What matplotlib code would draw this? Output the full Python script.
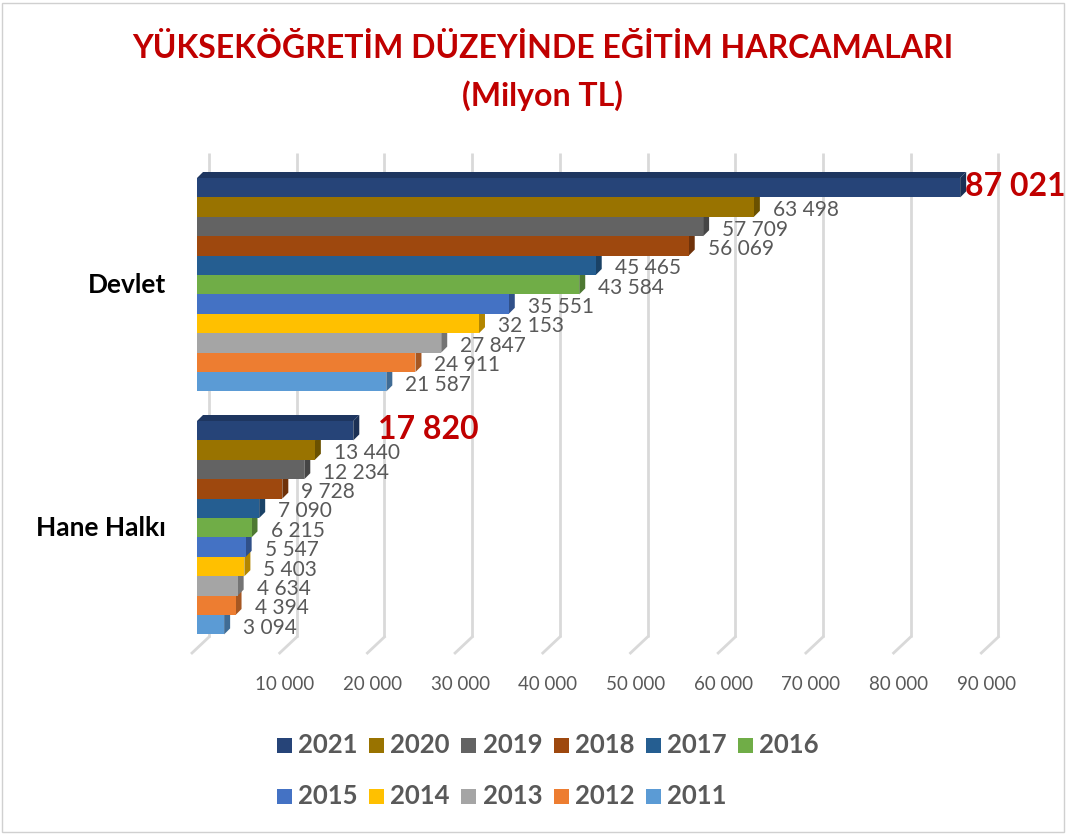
import numpy as np
import matplotlib
matplotlib.use('Agg')
from matplotlib import pyplot as plt
from matplotlib.patches import Polygon, Rectangle
from matplotlib.colors import to_rgb

#=======================================#
# Data                                  #
#=======================================#
years = ['2021', '2020', '2019', '2018', '2017', '2016',
         '2015', '2014', '2013', '2012', '2011']
colors = ['#264478', '#997300', '#636363', '#9E480E', '#255E91', '#70AD47',
          '#4472C4', '#FFC000', '#A5A5A5', '#ED7D31', '#5B9BD5']
categories = ['Devlet', 'Hane Halkı']
devlet = [87021, 63498, 57709, 56069, 45465, 43584, 35551, 32153, 27847, 24911, 21587]
hane_halki = [17820, 13440, 12234, 9728, 7090, 6215, 5547, 5403, 4634, 4394, 3094]
xticks = [10000, 20000, 30000, 40000, 50000, 60000, 70000, 80000, 90000]

title = 'YÜKSEKÖĞRETİM DÜZEYİNDE EĞİTİM HARCAMALARI\n(Milyon TL)'

#=======================================#
# Layout (pixel based)                  #
#=======================================#
W, H = 1068, 834
x0px = 197.0             # front face of value 0
scale = 87.7 / 10000     # pixels per unit
depth = 6.0              # 3d depth of the bars in px
bar_h = 19.4
group_top = [178.0, 421.0]

fnt = ['Lato', 'DejaVu Sans']
red = '#C00000'
grey = '#595959'

fig = plt.figure(figsize=(W / 100, H / 100), dpi=100)
ax = fig.add_axes([0, 0, 1, 1])
ax.set_xlim(-x0px / scale, (W - x0px) / scale)
ax.set_ylim(H, 0)
ax.axis('off')

dx = depth / scale  # depth in data units

def shade(c, f):
    return tuple(np.array(to_rgb(c)) * f)

# gridlines on back wall + floor
for v in [0] + xticks:
    xb = v + 12 / scale
    ax.plot([xb, xb], [153, 637], color='#D9D9D9', lw=2, zorder=1,
            solid_capstyle='butt')
    ax.plot([xb, v - 5 / scale], [637, 653], color='#D9D9D9', lw=2, zorder=1)

for v in xticks:
    ax.text(v, 685, '{:,}'.format(v).replace(',', ' '), ha='center', va='center',
            fontsize=13.5, color=grey, family=fnt)

#=======================================#
# Bars                                  #
#=======================================#
for g, vals in enumerate([devlet, hane_halki]):
    top = group_top[g]
    for i in reversed(range(len(vals))):
        v = vals[i]
        yt = top + i * bar_h
        yb = yt + bar_h
        c = colors[i]
        # side face
        ax.add_patch(Polygon([(v, yt), (v + dx, yt - depth), (v + dx, yb - depth), (v, yb)],
                             closed=True, fc=shade(c, 0.7), ec='none', zorder=3))
        # top face
        ax.add_patch(Polygon([(0, yt), (dx, yt - depth), (v + dx, yt - depth), (v, yt)],
                             closed=True, fc=shade(c, 0.8), ec='none', zorder=3))
        ax.barh(yt + bar_h / 2, v, height=bar_h, left=0, color=c, zorder=3)

        lbl = '{:,}'.format(v).replace(',', ' ')
        if i == 0:
            off = 5 if g == 0 else 25
            ax.text(v + off / scale, yt + bar_h / 2 - 1, lbl, ha='left', va='center',
                    fontsize=23, fontweight='bold', color=red, family=fnt, zorder=5)
        else:
            ax.text(v + 19 / scale, yt + bar_h / 2 + 3, lbl, ha='left', va='center',
                    fontsize=15, color=grey, family=fnt, zorder=5)

    ax.text(-31 / scale, top + len(vals) * bar_h / 2, categories[g], ha='right',
            va='center', fontsize=19, fontweight='bold', color='black', family=fnt)

#=======================================#
# Title                                 #
#=======================================#
fig.text(0.508, 1 - 72 / H, title, ha='center', va='center', fontsize=23,
         fontweight='bold', color=red, family=fnt, linespacing=1.65)

#=======================================#
# Legend                                #
#=======================================#
leg_x = [284, 376, 469, 561, 653, 745]
leg_y = [745, 796]
for k, (yr, c) in enumerate(zip(years, colors)):
    row, col = divmod(k, 6)
    px = leg_x[col]
    py = leg_y[row]
    fig.patches.append(Rectangle(((px - 7.5) / W, 1 - (py + 7.5) / H), 15 / W, 15 / H,
                                 transform=fig.transFigure, fc=c, ec='none'))
    fig.text((px + 14) / W, 1 - py / H, yr, ha='left', va='center', fontsize=18.5,
             fontweight='bold', color=grey, family=fnt)

# chart border
fig.patches.append(Rectangle((2 / W, 2 / H), (W - 6) / W, (H - 5) / H,
                             transform=fig.transFigure, fill=False, ec='#D0D0D0', lw=1))

plt.savefig('out.png', dpi=100)
plt.close()
